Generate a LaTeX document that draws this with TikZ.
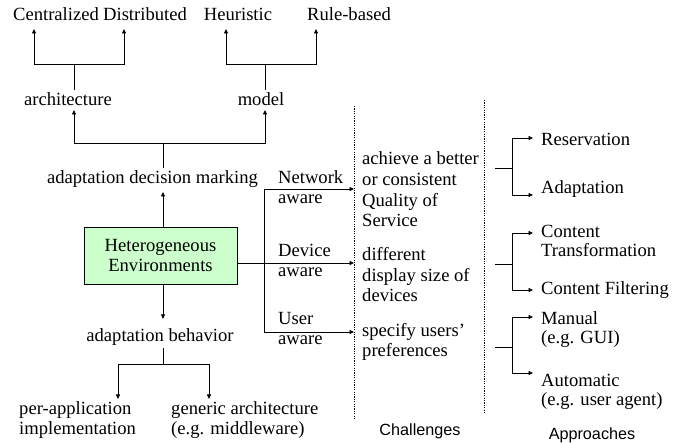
\documentclass[tikz,border=0pt]{standalone}
\usepackage{fontspec}
\setmainfont{Liberation Serif}
\setsansfont{Liberation Sans}
\usetikzlibrary{arrows.meta, positioning}
\definecolor{envgreen}{HTML}{CCFFCC}
\tikzset{
    txt/.style={inner sep=0pt, anchor=base, font=\fontsize{18.6}{20.7}\selectfont},
    mtxt/.style={txt, align=left, anchor=base west},
    rtxt/.style={mtxt, font=\fontsize{18.6}{19.2}\selectfont},
    colcap/.style={inner sep=0pt, anchor=base, font=\sffamily\fontsize{16.2}{19}\selectfont},
    ln/.style={line width=0.8pt},
    arr/.style={ln, -{Triangle[length=4.5pt, width=4pt]}},
    sepline/.style={line width=0.8pt, dash pattern=on 1.2pt off 1.2pt},
    envbox/.style={draw, fill=envgreen, line width=0.8pt, inner sep=0pt,
        minimum width=153pt, minimum height=57pt, align=center,
        font=\fontsize{18.6}{20}\selectfont}
}
\begin{document}
\begin{tikzpicture}[x=1pt, y=-1pt]
    \useasboundingbox (0,0) rectangle (683,443);
    % decision tree
    \node[txt] (cen) at (56,21) {Centralized};
    \node[txt] (dist) at (145,21) {Distributed};
    \node[txt] (heur) at (238,21) {Heuristic};
    \node[txt] (rule) at (349,21) {Rule-based};
    \node[txt] (arch) at (68,106) {architecture};
    \node[txt] (model) at (261,106) {model};
    \node[txt] (adm) at (152.5,184) {adaptation decision marking};
    \node[envbox] (env) at (160.5,255.5) {Heterogeneous\\Environments};
    \node[txt] (beh) at (160,342) {adaptation behavior};
    \node[mtxt] (perapp) at (19,435) {per-application\\implementation};
    \node[mtxt] (generic) at (171,435) {generic architecture\\(e.g. middleware)};
    \coordinate (a1) at (74,64);
    \coordinate (m1) at (265,64);
    \coordinate (d1) at (163,143);
    \coordinate (b1) at (163,364);
    \draw[ln] ([xshift=6pt, yshift=3pt]arch.north) -- (a1);
    \draw[arr] (a1) -| ([xshift=-22pt, yshift=-8pt]cen.base);
    \draw[arr] (a1) -| ([xshift=-21pt, yshift=-8pt]dist.base);
    \draw[ln] ([xshift=4pt, yshift=3pt]model.north) -- (m1);
    \draw[arr] (m1) -| ([xshift=-12pt, yshift=-8pt]heur.base);
    \draw[arr] (m1) -| ([xshift=-33pt, yshift=-8pt]rule.base);
    \draw[ln] ([xshift=10.5pt, yshift=3pt]adm.north) -- (d1);
    \draw[arr] (d1) -| ([xshift=6pt, yshift=-4pt]arch.base);
    \draw[arr] (d1) -| ([xshift=4pt, yshift=-4pt]model.base);
    \draw[arr] ([xshift=2.5pt]env.north) -- ([xshift=10.5pt, yshift=-8pt]adm.base);
    \draw[arr] ([xshift=2.5pt]env.south) -- ([xshift=3pt, yshift=10pt]beh.north);
    \draw[ln] ([xshift=3pt, yshift=-2pt]beh.south) -- (b1);
    \draw[arr] (b1) -| ([xshift=99pt, yshift=36pt]perapp.base west);
    \draw[arr] (b1) -| ([xshift=38pt, yshift=36pt]generic.base west);
    % awareness and challenges
    \node[mtxt] (net) at (278,204) {Network\\aware};
    \node[mtxt] (dev) at (278,277) {Device\\aware};
    \node[mtxt] (usr) at (278,345) {User\\aware};
    \node[mtxt] (ch1) at (362,227) {achieve a better\\or consistent\\Quality of\\Service};
    \node[mtxt] (ch2) at (362,302) {different\\display size of\\devices};
    \node[mtxt] (ch3) at (362,357) {specify users'\\preferences};
    \coordinate (c1top) at (354,106);
    \coordinate (c1bot) at (354,420);
    \coordinate (c2top) at (484,100);
    \coordinate (c2bot) at (484,413);
    \coordinate (sp1) at (264,189);
    \coordinate (sp3) at (264,332);
    \draw[sepline] (c1top) -- (c1bot);
    \draw[sepline] (c2top) -- (c2bot);
    \draw[ln] (sp1) -- (sp3);
    \draw[arr] (sp1) -- (sp1 -| c1top);
    \draw[arr] ([yshift=-7.5pt]env.east) -- ([yshift=-7.5pt]env.east -| c1top);
    \draw[arr] (sp3) -- (sp3 -| c1top);
    \node[colcap] (chal) at (420,436) {Challenges};
    % approaches
    \node[rtxt] (resv) at (541,146) {Reservation};
    \node[rtxt] (adapt) at (541,194) {Adaptation};
    \node[rtxt] (ctrans) at (541,257) {Content\\Transformation};
    \node[rtxt] (cfilt) at (541,295) {Content Filtering};
    \node[rtxt] (manual) at (541,344) {Manual\\(e.g. GUI)};
    \node[rtxt] (auto) at (541,406) {Automatic\\(e.g. user agent)};
    \node[colcap] (appr) at (592,440) {Approaches};
    \foreach \y/\top/\bot/\ts/\bs in {168/resv/adapt/8/-1, 264/ctrans/cfilt/24/5, 347/manual/auto/27/33}{
    \coordinate (r0) at (495,\y);
    \coordinate (r1) at (512,\y);
    \draw[ln] (r0) -- (r1);
    \draw[arr] (r1) |- ([xshift=-8pt, yshift=\ts pt]\top.base west);
    \draw[arr] (r1) |- ([xshift=-8pt, yshift=\bs pt]\bot.base west);}
\end{tikzpicture}
\end{document}
